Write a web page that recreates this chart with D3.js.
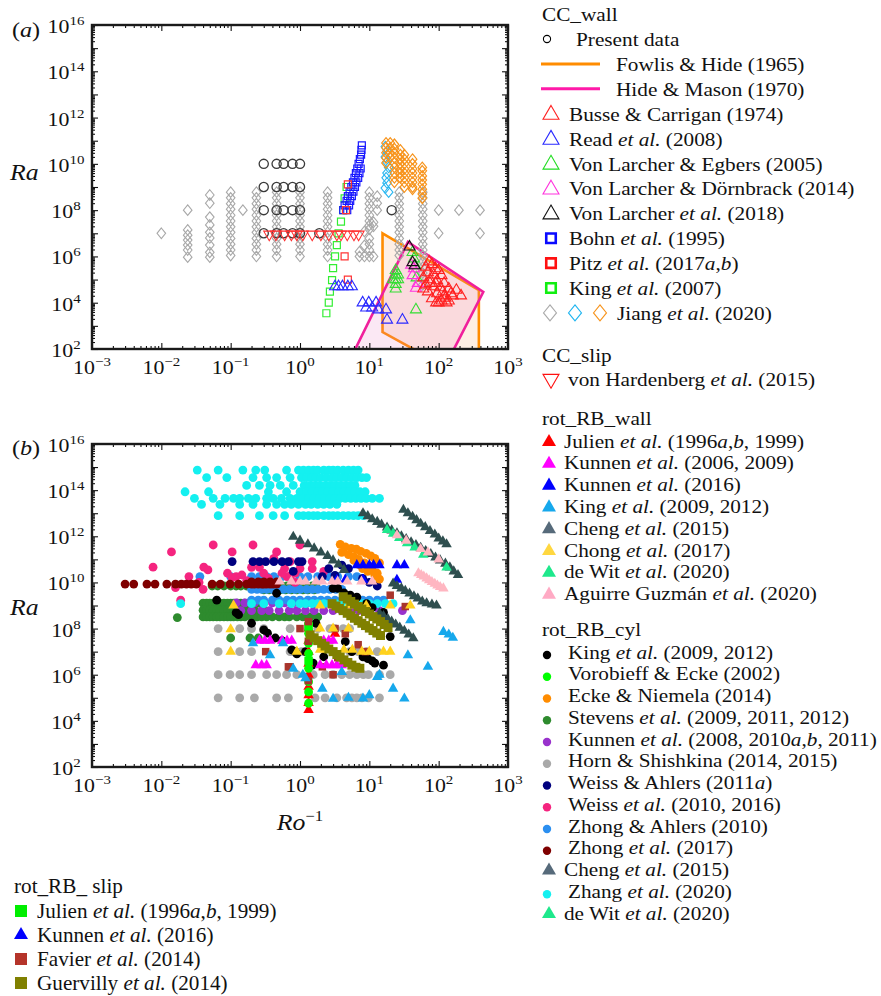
<!DOCTYPE html>
<html lang="en">
<head>
<meta charset="UTF-8">
<title>Ra versus inverse Rossby number</title>
<script src="https://d3js.org/d3.v7.min.js"></script>
<style>
  body { margin: 0; background: #fff; }
  svg { display: block; font-family: "Liberation Serif", "Times New Roman", serif; }
</style>
</head>
<body>
<svg width="881" height="996"></svg>
<script>
// helpers to pair typed values: row = same Ra, col = same Ro^-1
const row = (ra, ros) => ros.map(r => [r, ra]);
const col = (ro, ras) => ras.map(r => [ro, r]);

// ---------------- panel (a) data  [Ro^-1, Ra] ----------------
const presentData = [].concat(
  row(1e10, [0.3, 0.46, 0.58, 0.78, 1.0]),
  row(1e9, [0.3, 0.46, 0.58, 0.78, 1.0]),
  row(1e8, [0.3, 0.46, 0.58, 0.78, 1.0, 21]),
  row(1e7, [0.3, 0.46, 0.58, 0.78, 1.0, 1.9])
);
const fowlisHide = [[15.5, 1e7], [380, 3.5e4], [380, 40], [75, 40], [15.5, 540]];
const hideMason = [[5.4, 40], [36, 4.2e6], [440, 2.9e4], [142, 40]];
const busseCarrigan = [[73,5.9e5],[80,4.5e5],[65,3.5e5],[90,3e5],[100,2.5e5],[70,2e5],[85,1.6e5],[110,1.5e5],
  [60,1.2e5],[75,1e5],[95,9e4],[120,7e4],[65,6e4],[85,5e4],[105,4.5e4],[140,4e4],[180,3.5e4],[70,3e4],
  [95,2.5e4],[120,2e4],[160,2e4],[210,2e4],[80,1.5e4],[110,1.2e4],[140,1.2e4],[100,1e4],[130,1e4],
  [90,7e4],[115,3e4],[150,2.5e4],[60,4e4],[75,7e4],[92,1e4],[125,1.6e4]];
const read2008 = [[3.2,5e4],[3.6,5e4],[4.1,5e4],[4.9,5e4],[5.6,5e4],[8,1e4],[9.8,1e4],[12.5,1e4],
  [9,6e3],[11,6e3],[13.5,5e3],[17.4,5e3],[18,1.8e3],[30,1.8e3]];
const vonLarcherEgbers = [[24,2.5e5],[24,1.6e5],[24,1e5],[24,6.3e4],[24,4e4],[26,1.6e5],[26,1e5],[22,1e5],
  [42,1.5e6],[44,8e5],[46,4e5],[48,1.2e5],[47,5e3]];
const vonLarcherDornbrack = [[40,4.3e5],[44,3e5],[42,1.5e5],[47,4.3e4],[50,7e4]];
const vonLarcher2018 = [[38,2.6e6],[42,5.5e5],[45,4e5]];
const bohn1995 = [[4.2,1e8],[4.4,1.6e8],[4.7,2.5e8],[4.9,4e8],[5.2,6.3e8],[5.5,1e9],[5.8,1.6e9],[6.1,2.5e9],
  [6.4,4e9],[6.7,6.3e9],[7.0,1e10],[7.3,1.6e10],[7.6,2.5e10],[7.7,4e10],[7.8,6.3e10],
  [4.8,1e8],[5.1,1.6e8],[5.3,2.5e8],[5.6,4e8],[5.9,6.3e8],[6.2,1e9],[6.5,1.6e9],[6.9,2.5e9],[7.2,4e9],[7.5,6.3e9]];
const pitz2017 = [[4.4,1e6],[4.9,1e5],[4.9,1.3e9],[4.6,1e8]];
const king2007 = [[2.4,3.5e3],[2.6,1e4],[2.7,3e4],[2.9,9.5e4],[3.0,3.1e5],[3.2,1e6],[3.4,3.1e6],
  [3.6,1e7],[3.9,3.2e7],[4.2,1e8],[4.4,3.2e8],[4.7,1e9]];
const jiangGrey = [].concat(
  col(0.01, [1e7]),
  col(0.024, [1e8, 1.4e7, 8.3e6, 5.1e6, 3.1e6, 1.9e6, 9.3e5]),
  col(0.05, [4.5e8, 2e8, 5e7, 2.3e7, 1.1e7, 6.3e6, 3.1e6, 1.5e6, 9.3e5]),
  col(0.1, [6e8, 3.4e8, 1.9e8, 1.1e8, 6e7, 3.4e7, 1.9e7, 1.1e7, 6e6, 3.4e6, 1.9e6, 1.1e6]),
  col(0.15, [1e8]),
  col(0.235, [6e8, 3.4e8, 1.9e8, 1.1e8, 6e7, 3.4e7, 1.9e7, 1.1e7, 6e6, 3.4e6, 1.9e6, 1e6]),
  col(0.46, [6e8, 3.4e8, 1.9e8, 1.1e8, 6e7, 3.4e7, 1.9e7, 1.1e7, 6e6, 3.4e6, 1.9e6, 1e6]),
  col(1.0, [6e8, 3.4e8, 1.9e8, 1.1e8, 6e7, 3.4e7, 1.9e7, 1.1e7, 6e6, 3.4e6, 1.9e6, 1e6]),
  col(2.5, [6e8, 3.4e8, 1.9e8, 1.1e8, 6e7, 3.4e7, 1.9e7, 1.1e7, 6e6, 3.4e6, 1.9e6, 1e6]),
  col(7.2, [1e6, 1.6e6]),
  col(8.5, [1e6, 3e6, 1.2e7]),
  col(10, [6e8, 3.4e8, 1.9e8, 1.1e8, 6e7, 3.4e7, 2.2e7, 1.5e7, 6e6, 3.4e6, 1.9e6, 1e6]),
  col(11.5, [2e7, 3e7, 1e6]),
  col(13, [4e8, 2e8, 1e8]),
  col(27, [6e8, 3.4e8, 1.9e8, 1.1e8, 6e7, 3.4e7, 1.9e7, 1.1e7, 6e6, 3.4e6, 1.9e6, 1.1e6]),
  col(59, [6e8, 3.4e8, 1.9e8, 1.1e8, 6e7, 3.4e7, 1.9e7, 1.1e7, 6e6, 3.4e6, 1.9e6, 1.1e6, 6e5, 3.4e5, 1.9e5, 1.1e5, 6e4]),
  col(100, [1e8, 1e7]),
  col(196, [1e8]),
  col(395, [1e8, 1e7])
);
const jiangCyan = [[17,5.5e10],[18,3.5e10],[17,2e10],[18,1.2e10],[19,7e9],[18,4e9],[17.5,2.5e9],[18,1.5e9],[17,9e8],[19,6e8]];
const jiangOrange = [].concat(
  col(17.4, [8e10, 5e10, 3e10, 1.8e10, 1.1e10]),
  col(20, [8e10, 5e10, 3e10, 2e10]),
  col(23, [7e10, 4.5e10, 3e10, 1.8e10, 1.1e10, 7e9, 4e9, 2.5e9, 1.6e9]),
  col(28, [4e10, 2.5e10, 1.6e10, 1e10, 6e9, 4e9, 2.5e9]),
  col(32, [2.5e10, 1.6e10, 1e10, 6e9, 4e9, 2.5e9, 1.6e9, 1e9]),
  col(42, [1.6e10, 1e10, 6e9, 4e9, 2.5e9, 1.6e9, 1e9, 8e8]),
  col(58, [7e9, 5e9, 3e9, 2e9, 1.3e9, 8e8, 5e8, 3.3e8])
);
const vonHardenberg = row(9e6, [0.36, 0.45, 0.6, 0.75, 0.9, 1.1, 1.5, 2.0, 2.6, 3.4, 3.9, 4.8, 6.0, 7.0]);

// ---------------- panel (b) data  [Ro^-1, Ra] ----------------
const hornShishkina = [].concat(
  row(1.2e9, [0.066, 0.2, 0.5]),
  row(1e8, [0.066, 0.135, 0.2, 0.3, 0.72, 1.3, 1.8, 2.7, 3.2, 4.2, 5.2]),
  row(1e7, [0.066, 0.135, 0.2, 0.72, 1.05, 3.0, 5.2, 6.9, 9.1, 13]),
  row(1e6, [0.066, 0.098, 0.135, 0.2, 0.33, 0.46, 0.64, 0.9, 1.55, 2.3, 3.0, 4.0, 5.2, 6.6, 8.2, 9.7, 14, 20]),
  row(1e5, [0.066, 0.135, 0.22, 0.46, 0.68, 1.65, 2.3, 3.4, 4.7, 5.6, 6.6, 7.8, 9.7, 14])
);
const stevens = [].concat(
  row(7e9, [0.054, 0.065, 0.08, 0.1, 0.12, 0.14, 0.17, 0.2, 0.24, 0.28, 0.33, 0.4, 0.47, 0.55, 0.65, 0.75, 0.9, 1.05, 1.25, 1.5, 1.7]),
  row(4.8e9, [0.3, 0.36, 0.44, 0.52, 0.62, 0.75, 0.9, 1.1, 1.3, 1.6]),
  row(1.26e9, [0.04, 0.045, 0.05, 0.056, 0.063, 0.07, 0.08, 0.09, 0.1, 0.11, 0.125, 0.14, 0.16, 0.18, 0.2, 0.25]),
  row(6.3e8, [0.04, 0.045, 0.05, 0.056, 0.063, 0.07, 0.08, 0.09, 0.1, 0.11, 0.125, 0.14, 0.16, 0.18, 0.2, 0.22, 0.3]),
  row(3.2e8, [0.04, 0.045, 0.05, 0.056, 0.063, 0.07, 0.08, 0.09, 0.1, 0.11, 0.125, 0.14, 0.16, 0.2, 0.24, 0.28, 0.33, 0.4, 0.5, 0.6, 0.7, 0.9, 1.1, 1.4, 1.8]),
  [[0.017, 3e8], [0.1, 3.9e7], [0.19, 3.9e7], [0.25, 3.9e7]]
);
const kunnen2008 = [].concat(
  row(1.3e9, [0.12, 0.16, 0.22, 0.3, 0.4, 0.5, 0.6, 0.8, 1.0, 1.3, 1.6, 2.0, 2.5, 3.2, 4, 5, 6.3, 8, 10]),
  row(6e8, [0.14, 0.2, 0.28, 0.36, 0.5, 0.7, 0.9, 1.2, 1.6, 2.2, 3.0, 4, 5.5, 7, 10, 14, 30])
);
const zhongAhlers = [].concat(
  row(1.8e10, [0.036, 0.1, 0.2, 0.26, 0.33, 0.42, 0.55, 0.72, 1.0, 1.3, 1.8, 2.6, 3.5, 5, 6.6]),
  row(5e9, [0.2, 0.24, 0.28, 0.33, 0.4, 0.48, 0.58, 0.7, 0.85, 1.0, 1.25, 1.5, 1.8, 2.2, 2.7, 3.3, 4]),
  row(1.7e9, [0.2, 0.25, 0.3, 0.4, 0.5, 0.65, 0.8, 1, 1.3, 1.6, 2, 2.5, 3.2, 4, 5, 6.3, 8, 10, 13, 16])
);
const weiss = [[0.014,2.1e11],[0.056,4.2e11],[0.105,2.1e11],[0.21,4.2e11],[0.46,2.1e11],[0.42,1.1e11],
  [0.0076,4.6e10],[0.041,4.6e10],[0.047,3.5e10],[0.025,1.8e10],[0.019,1.7e9],[0.145,2.1e10],[0.2,4.5e10],
  [0.26,4.5e10],[0.105,1.6e10],[0.6,4e10],[0.65,1.8e10],[1.0,4.2e11],[0.72,8e10],[1.5,8e10],[1.5,4e10],
  [1.0,4e10],[0.72,1.9e10],[0.3,2.5e10],[0.09,2.5e10],[0.035,1e10],[0.016,6e9],[0.04,5e9],[0.12,1.8e10],
  [0.17,1.2e10],[0.35,1.5e10],[0.55,2.5e10],[0.85,2.5e10],[2.2,3e10],[0.85,1e10]];
const weissAhlers = [[0.105,8e10],[0.21,8e10],[0.26,8e10],[0.32,8e10],[0.42,8e10],[0.55,8e10],[0.68,8e10],
  [0.95,8e10],[1.07,8e10],[2.6,4e10],[2.1,1.8e10],[4,5.6e10],[5,4e10],[8,1.5e10],[10,1e10],[13,7e9],[0.8,3e10],[3.2,2e10]];
const zhong2017 = [].concat(
  row(8.5e9, [0.003, 0.004, 0.0062, 0.0081, 0.012, 0.016, 0.0195, 0.023, 0.027, 0.032, 0.054, 0.071, 0.098, 0.13,
    0.17, 0.2, 0.22, 0.25, 0.28, 0.3, 0.33, 0.37, 0.41, 0.46]),
  row(1.05e10, [0.2, 0.25, 0.3, 0.37, 0.46])
);
const zhang2020 = [].concat(
  row(7.4e14, [0.033, 0.066, 0.15, 0.23, 0.31, 0.64, 0.95, 1.12, 1.33, 1.56, 1.8, 2.2, 2.6, 3.0, 3.5, 4.2, 5.0, 5.9, 6.9]),
  row(3.5e14, [0.045, 0.088, 0.21, 0.33, 0.46, 0.72, 1.05, 1.25, 1.47, 1.7, 2.0, 2.4, 2.9, 3.4, 4.0, 4.7, 5.6, 6.6, 7.8, 9.1]),
  row(1.6e14, [0.17, 0.26, 0.37, 0.52, 0.8, 1.15, 1.4, 1.65, 1.9, 2.3, 2.7, 3.2, 3.8, 4.5, 5.3, 6.2]),
  row(8.5e13, [0.022, 0.048, 0.35, 0.64, 1.0, 1.25, 1.5, 1.8, 2.1, 2.5, 3.0, 3.6, 4.3, 5.1, 6.1, 7.3, 8.7]),
  row(4.4e13, [0.03, 0.056, 0.083, 0.11, 0.135, 0.18, 0.23, 0.33, 0.41, 0.54, 0.72, 0.9, 1.12, 1.35, 1.6, 1.9,
    2.25, 2.7, 3.2, 3.8, 4.5, 5.4, 6.4, 7.6, 9, 11, 14]),
  row(2.4e13, [0.038, 0.07, 0.135, 0.21, 0.33, 0.46, 0.6, 0.75, 0.95, 1.2, 1.45, 1.8, 2.2, 2.7, 3.4]),
  row(7.8e12, [0.066, 0.135, 0.26, 0.41, 0.6, 0.95, 1.12, 1.33, 1.56, 1.8, 2.2, 2.6, 3.0, 3.5, 4.2, 5.0, 5.9, 6.9, 8.2]),
  row(1.2e9, [0.019, 0.2, 0.3, 0.5, 0.75, 1.0, 1.2, 1.5, 1.8, 2.2, 2.7, 3.3, 4, 5, 6, 8, 10, 13, 17, 22])
);
const eckeNiemela = [[3.8,4.5e11],[4.5,3.5e11],[5.5,3e11],[6.5,2.8e11],[7.5,2.2e11],[9,1.8e11],[10.5,1.4e11],
  [12,1.1e11],[14,7e10],[4,2e11],[5,1.6e11],[6,1.3e11],[7,1e11],[8.5,7e10],[10,5e10],[11,3.5e10],[13,2.5e10],
  [7,6e10],[8,4e10],[9.5,3e10],[12,2e10],[14,1.4e10],[6,9e10]];
const vorobieffEcke = col(1.33, [1.6e8, 6.2e7, 2.3e7, 8.3e6, 1.9e6, 5e5, 1.8e5, 5.8e4]);
const kingCyl = [[0.063,1.7e9],[0.12,4.9e8],[0.13,4e8],[0.2,1.7e8],[0.3,8.7e7],[0.34,6.3e7],[0.44,3.9e7],
  [0.46,3.4e9],[0.55,3e7],[0.76,1.2e7],[0.85,1e7],[0.9,8e6],[1.5,2.6e6],[3.5,5.5e9],[3.0,5.5e9],[4.3,3.5e9],
  [5.3,2.8e9],[6.6,2.3e9],[9.1,1.2e9],[11,8e8],[16,5e8],[20,4.5e7],[1.7,1.7e8],[4.5,2.7e7],[5.6,1e7],
  [8.1,5.9e6],[9.5,5e6],[11,4e6],[12,3.2e6],[16,2.6e6],[1.55,3.2e6],[1.2,1e7],[2.2,6e6]];
const favier = [[0.32,1e7],[0.68,2.2e6],[1.0,1e8],[3.2,1e8],[4.5,6e7],[6.9,2e7],[8.8,1e7],[20,2.8e9],[33,9e8],
  [1.32,2e8],[2.1,2.2e6],[3.0,1e6],[0.72,2.2e6],[1.32,5.5e5],[1.32,2.8e7],[3.5,5.5e6]];
const kunnen2006 = [].concat(
  row(3e7, [0.26, 0.31, 0.37, 0.55, 0.65, 0.76, 2.2, 2.6, 3.0]),
  row(2.6e6, [0.23, 0.28, 0.33, 1.95, 2.4, 2.9, 3.4, 4.0])
);
const chong = [[0.1,9.3e7],[0.1,1e7],[0.9,1e7],[1.95,1e8],[3.0,1e8],[5,1e8],[7.8,1e7],[10,1e7],[16,1e7],[20,1e7],
  [39,1e9],[1.95,1e9],[3.0,1e9],[0.11,1e9],[5,1e9],[9,1e9],[20,1e9],[4.3,1.2e7],[5.7,1.2e7],[1.95,1.2e7]];
const kingWall = [[70,2.2e6],[117,7.2e7],[140,5.5e7],[160,4e7],[39,2.3e8],[32,9.3e4],[22,2.5e5],[13,8e5],
  [8.1,9.3e4],[5,1e5],[3,9e4],[2.1,2.5e5],[1.1,1e6],[0.21,2.3e7],[0.37,7e6],[0.57,2.3e7],[1.2,7e5],[36,7e6],
  [14,1e6],[10,1.3e5],[4,1.3e6],[0.8,1.8e6]];
const julienWall = col(1.33, [3e4, 6e4, 1.3e5, 3e5, 1e6, 3e6, 1e7, 3e7, 1e8]).concat([[3.2, 6e7]]);
const kunnen2016 = [].concat(
  row(5.6e10, [6.6, 8.1, 10, 11.5, 14, 25, 32]),
  row(1.3e10, [3.4, 4.5, 8.1, 25])
);
const cheng2015 = [
  [0.8,9.5e11],[1.0,6.5e11],[1.3,4.5e11],[1.6,3e11],[2.0,2e11],[2.5,1.4e11],[3.0,9e10],[3.6,6e10],[4.3,3.5e10],
  [8.1,1e13],[9.5,7.5e12],[11,5.5e12],[13,4.2e12],[15,3.2e12],[18,2.4e12],[21,1.8e12],[25,1.35e12],[29,1e12],
  [34,7.5e11],[40,5.5e11],[47,4.2e11],[55,3.2e11],[65,2.3e11],[77,1.7e11],[90,1.2e11],[105,9e10],[125,6.5e10],
  [145,4.5e10],[165,3e10],[190,2.1e10],
  [31,1.4e13],[36,1e13],[42,7e12],[48,5e12],[55,3.5e12],[64,2.5e12],[75,1.7e12],[88,1.2e12],[100,8e11],[115,6e11],[130,4.5e11],
  [22,9e9],[25,7e9],[29,5.5e9],[33,4.3e9],[38,3.3e9],[44,2.5e9],[50,2e9],[58,1.5e9],[67,1.25e9],[80,1.1e9],[93,1e9],
  [14,4.6e8],[16,3.5e8],[18.5,2.6e8],[21,2e8],[24,1.5e8],[27.5,1.1e8],[32,8e7],[37,5.5e7],[43,3.8e7]];
const deWit = [[18,1.9e12],[22,1.3e12],[27,8.5e11],[35,5e11],[45,3.3e11],[60,1.6e11],[130,4.4e10]];
const aguirreGuzman = [[25,1.1e12],[34,6.5e11],[55,2.8e11],[70,2e11],[100,1e11],
  [51,2.5e10],[56,2.1e10],[61,1.8e10],[67,1.5e10],[73,1.25e10],[80,1.05e10],[88,8.8e9],[96,7.4e9],[105,6.3e9],[117,5.5e9],
  [0.51,1.1e10],[0.75,1.1e10],[1.0,1.1e10],[1.2,1.1e10],[1.7,1.1e10],[2.1,1.1e10],[2.9,1.1e10],[3.5,1.1e10],
  [4.8,1.1e10],[7.7,1.1e10],[11,1.1e10]];
const guervilly = [
  [2.9,1.2e9],[3.3,9.5e8],[3.7,7.5e8],[4.2,6e8],[4.8,4.6e8],[5.4,3.6e8],[6.1,2.8e8],[6.9,2.2e8],[7.8,1.7e8],
  [8.8,1.35e8],[10,1.05e8],[11.3,8.2e7],[12.8,6.4e7],[14.5,5e7],
  [4.2,2.4e9],[4.8,1.9e9],[5.4,1.5e9],[6.1,1.15e9],[6.9,9e8],[7.8,7e8],[8.8,5.5e8],[10,4.3e8],[11.3,3.3e8],
  [12.8,2.6e8],[14.5,2e8],[16.4,1.5e8],[18.6,1.1e8],
  [1.4,5.3e7],[1.6,4e7],[1.8,3e7],[2.05,2.3e7],[2.3,1.75e7],[2.6,1.3e7],[3.0,1e7],[3.4,7.5e6],[3.8,5.8e6],
  [4.3,4.4e6],[4.9,3.4e6],[5.6,2.6e6],[6.4,2.1e6],[7.3,1.9e6]];
const julienSlip = [[1.33, 1.2e8], [1.33, 4e6]];
const kunnenSlip = [[8.1, 1.3e10]];

// axis tick labels (powers of ten)
const xTickExps = [-3, -2, -1, 0, 1, 2, 3];
const yTickExps = [2, 4, 6, 8, 10, 12, 14, 16];

// ---------------- drawing ----------------
const svg = d3.select("svg");

function stretchedText(parent, x, y, size, sx, anchor) {
  return parent.append("text")
    .attr("transform", `translate(${x},${y}) scale(${sx},1)`)
    .attr("font-size", size)
    .attr("text-anchor", anchor || "start")
    .attr("fill", "#111");
}
function richText(t, str) {
  str.split(/(<i>.*?<\/i>)/).forEach(part => {
    if (!part) return;
    const it = part.startsWith("<i>");
    t.append("tspan").attr("font-style", it ? "italic" : null).text(it ? part.slice(3, -4) : part);
  });
}
function powLabel(parent, x, y, exp, anchor) {
  const t = stretchedText(parent, x, y, 19, 1.15, anchor);
  t.append("tspan").text("10");
  t.append("tspan").attr("dy", -8).attr("font-size", 13).text(exp < 0 ? "\u2212" + (-exp) : String(exp));
}

function makePanel(id, top, bottom) {
  const x = d3.scaleLog().domain([1e-3, 1e3]).range([92, 508]);
  const y = d3.scaleLog().domain([1e2, 1e16]).range([bottom, top]);
  const g = svg.append("g");
  g.append("clipPath").attr("id", "clip" + id).append("rect")
    .attr("x", 92).attr("y", top).attr("width", 416).attr("height", bottom - top);
  const plot = g.append("g").attr("clip-path", `url(#clip${id})`);
  return { x, y, g, plot, top, bottom };
}

function drawAxes(p) {
  const { x, y, g, top, bottom } = p;
  const xMajor = d3.range(-3, 4).map(e => Math.pow(10, e));
  const yMajor = d3.range(2, 17).map(e => Math.pow(10, e));
  const xMinor = [], yMinor = [];
  for (let e = -3; e < 3; e++) for (let m = 2; m < 10; m++) xMinor.push(m * Math.pow(10, e));
  for (let e = 2; e < 16; e++) for (let m = 2; m < 10; m++) yMinor.push(m * Math.pow(10, e));
  const put = (axis, tr) => g.append("g").attr("transform", tr).call(axis)
    .call(s => {
      s.select(".domain").remove();
      s.selectAll("text").remove();
      s.selectAll("line").attr("stroke", "#111").attr("stroke-width", 1.1);
    });
  put(d3.axisBottom(x).tickValues(xMajor).tickSize(-6), `translate(0,${bottom})`);
  put(d3.axisBottom(x).tickValues(xMinor).tickSize(-3), `translate(0,${bottom})`);
  put(d3.axisTop(x).tickValues(xMajor).tickSize(-6), `translate(0,${top})`);
  put(d3.axisTop(x).tickValues(xMinor).tickSize(-3), `translate(0,${top})`);
  put(d3.axisLeft(y).tickValues(yMajor).tickSize(-6), `translate(92,0)`);
  put(d3.axisLeft(y).tickValues(yMinor).tickSize(-3), `translate(92,0)`);
  put(d3.axisRight(y).tickValues(yMajor).tickSize(-6), `translate(508,0)`);
  put(d3.axisRight(y).tickValues(yMinor).tickSize(-3), `translate(508,0)`);
  g.append("rect").attr("x", 92).attr("y", top).attr("width", 416).attr("height", bottom - top)
    .attr("fill", "none").attr("stroke", "#1a1a1a").attr("stroke-width", 2.4);
  xTickExps.forEach(e => powLabel(g, x(Math.pow(10, e)), bottom + 25, e, "middle"));
  yTickExps.forEach(e => powLabel(g, 66, y(Math.pow(10, e)) + 8, e, "middle"));
}

// marker shapes
const triUp = s => ({ draw(c) { const h = s * 0.866; c.moveTo(0, -h * 2 / 3); c.lineTo(s / 2, h / 3); c.lineTo(-s / 2, h / 3); c.closePath(); } });
const triDown = s => ({ draw(c) { const h = s * 0.866; c.moveTo(0, h * 2 / 3); c.lineTo(s / 2, -h / 3); c.lineTo(-s / 2, -h / 3); c.closePath(); } });
const diamond = (w, h) => ({ draw(c) { c.moveTo(0, -h / 2); c.lineTo(w / 2, 0); c.lineTo(0, h / 2); c.lineTo(-w / 2, 0); c.closePath(); } });
const square = s => ({ draw(c) { c.rect(-s / 2, -s / 2, s, s); } });
const circle = r => ({ draw(c) { c.moveTo(r, 0); c.arc(0, 0, r, 0, 2 * Math.PI); } });

function scatter(p, data, shape, color, filled, sw) {
  const path = d3.symbol().type(shape)();
  p.plot.append("g").selectAll("path").data(data).join("path")
    .attr("transform", d => `translate(${p.x(d[0])},${p.y(d[1])})`)
    .attr("d", path)
    .attr("fill", filled ? color : "none")
    .attr("stroke", filled ? "none" : color)
    .attr("stroke-width", sw || 1.1);
}

// ---------- panel (a) ----------
const pa = makePanel("a", 25, 349);
const areaLine = d3.line().x(d => pa.x(d[0])).y(d => pa.y(d[1]));
pa.plot.append("path").attr("d", areaLine(fowlisHide) + "Z")
  .attr("fill", "#f9a66a").attr("fill-opacity", 0.18).attr("stroke", "#ff8c00").attr("stroke-width", 2.6);
pa.plot.append("path").attr("d", areaLine(hideMason) + "Z")
  .attr("fill", "#e878c0").attr("fill-opacity", 0.17).attr("stroke", "#f0209c").attr("stroke-width", 2.6);

scatter(pa, jiangGrey, diamond(8.6, 10.6), "#a8a8a8", false, 1.1);
scatter(pa, jiangCyan, diamond(8.6, 10.6), "#2ab7f0", false, 1.1);
scatter(pa, jiangOrange, diamond(8.6, 10.6), "#f7941d", false, 1.2);
scatter(pa, presentData, circle(4.6), "#3a3a3a", false, 1.3);
scatter(pa, king2007, square(7), "#33ee33", false, 1.2);
scatter(pa, bohn1995, square(7), "#1a1aff", false, 1.2);
scatter(pa, pitz2017, square(7), "#ff3333", false, 1.2);
scatter(pa, vonHardenberg, triDown(11), "#ff3030", false, 1.1);
scatter(pa, read2008, triUp(11), "#2a2aff", false, 1.1);
scatter(pa, vonLarcherEgbers, triUp(11), "#33dd33", false, 1.1);
scatter(pa, vonLarcherDornbrack, triUp(11), "#ff33dd", false, 1.1);
scatter(pa, busseCarrigan, triUp(11), "#ff2020", false, 1.1);
scatter(pa, vonLarcher2018, triUp(11), "#111", false, 1.1);
drawAxes(pa);

// ---------- panel (b) ----------
const pb = makePanel("b", 444, 767);
const dot = circle(4.4), tri = triUp(10.5), sq = square(8.5);
scatter(pb, hornShishkina, dot, "#a9a9a9", true);
scatter(pb, stevens, dot, "#2e8b2e", true);
scatter(pb, kunnen2008, dot, "#9932cc", true);
scatter(pb, zhongAhlers, dot, "#2b8ff0", true);
scatter(pb, weiss, dot, "#f5247f", true);
scatter(pb, weissAhlers, dot, "#00007f", true);
scatter(pb, zhong2017, dot, "#7f0000", true);
scatter(pb, zhang2020, dot, "#14f0f0", true);
scatter(pb, eckeNiemela, dot, "#ff8c00", true);
scatter(pb, kingCyl, dot, "#000", true);
scatter(pb, julienWall, tri, "#ff0000", true);
scatter(pb, julienSlip, sq, "#00ff00", true);
scatter(pb, vorobieffEcke, dot, "#00ff00", true);
scatter(pb, favier, square(7.5), "#a8352c", true);
scatter(pb, kunnen2006, tri, "#ff00ff", true);
scatter(pb, chong, tri, "#ffd21e", true);
scatter(pb, kingWall, tri, "#16a8ec", true);
scatter(pb, kunnen2016, tri, "#0000ff", true);
scatter(pb, kunnenSlip, tri, "#0000ff", true);
scatter(pb, cheng2015, tri, "#2f4f4f", true);
scatter(pb, deWit, tri, "#1ee88c", true);
scatter(pb, aguirreGuzman, tri, "#ffb6c1", true);
scatter(pb, guervilly, square(9), "#808000", true);
drawAxes(pb);

// panel letters and axis titles
const labA = stretchedText(svg, 12, 37, 21, 1.15); labA.append("tspan").text("(");
labA.append("tspan").attr("font-style", "italic").text("a"); labA.append("tspan").text(")");
const labB = stretchedText(svg, 12, 455, 21, 1.15); labB.append("tspan").text("(");
labB.append("tspan").attr("font-style", "italic").text("b"); labB.append("tspan").text(")");
stretchedText(svg, 10, 180, 23, 1.12).attr("font-style", "italic").text("Ra");
stretchedText(svg, 10, 615, 23, 1.12).attr("font-style", "italic").text("Ra");
const roT = stretchedText(svg, 300, 830, 23, 1.12, "middle");
roT.append("tspan").attr("font-style", "italic").text("Ro");
roT.append("tspan").attr("dy", -9).attr("font-size", 15).text("\u22121");

// ---------------- legends ----------------
const leg = svg.append("g");
function legMarker(kind, color, cx, cy) {
  const m = {
    hollowTri: [triUp(16), false], downTri: [triDown(16), false], bigSq: [square(9.5), false],
    dotSmall: [circle(3.6), false], fillTri: [triUp(14), true], fillDot: [circle(4.2), true], slipSq: [square(12), true]
  }[kind];
  leg.append("path").attr("transform", `translate(${cx},${cy})`).attr("d", d3.symbol().type(m[0])())
    .attr("fill", m[1] ? color : "none").attr("stroke", m[1] ? "none" : color)
    .attr("stroke-width", kind === "bigSq" ? 2.6 : 1.1);
}

// CC legend
const ccWall = [
  ["dotSmall", "#000", "Present data"],
  ["line", "#ff8c00", "Fowlis & Hide (1965)"],
  ["line", "#ff1aa8", "Hide & Mason (1970)"],
  ["hollowTri", "#ff2020", "Busse & Carrigan (1974)"],
  ["hollowTri", "#2a2aff", "Read <i>et al.</i> (2008)"],
  ["hollowTri", "#22dd22", "Von Larcher & Egbers (2005)"],
  ["hollowTri", "#ff33dd", "Von Larcher & Dörnbrack (2014)"],
  ["hollowTri", "#111", "Von Larcher <i>et al.</i> (2018)"],
  ["bigSq", "#0a0aff", "Bohn <i>et al.</i> (1995)"],
  ["bigSq", "#ff1010", "Pitz <i>et al.</i> (2017<i>a</i>,<i>b</i>)"],
  ["bigSq", "#11ee11", "King <i>et al.</i> (2007)"],
  ["jiang", null, "Jiang <i>et al.</i> (2020)"]
];
stretchedText(leg, 542, 21, 19, 1.12).text("CC_wall");
ccWall.forEach((d, i) => {
  const cy = 39 + i * 24.9;
  let tx = 569;
  if (d[0] === "line") {
    leg.append("line").attr("x1", 541).attr("x2", 600).attr("y1", cy).attr("y2", cy)
      .attr("stroke", d[1]).attr("stroke-width", 3);
    tx = 616;
  } else if (d[0] === "jiang") {
    ["#aaaaaa", "#1fb5f0", "#f7941d"].forEach((c, k) =>
      leg.append("path").attr("transform", `translate(${550 + k * 25},${cy})`)
        .attr("d", d3.symbol().type(diamond(13, 16))()).attr("fill", "none").attr("stroke", c).attr("stroke-width", 1.1));
    tx = 617;
  } else {
    legMarker(d[0], d[1], d[0] === "dotSmall" ? 547 : 551, cy + (d[0] === "hollowTri" ? 1 : 0));
    if (d[0] === "dotSmall") tx = 576;
  }
  richText(stretchedText(leg, tx, cy + 7, 19, 1.12), d[2]);
});
stretchedText(leg, 542, 362, 19, 1.12).text("CC_slip");
legMarker("downTri", "#ff1010", 551, 379);
richText(stretchedText(leg, 568, 386, 19, 1.12), "von Hardenberg <i>et al.</i> (2015)");

// rot_RB wall / cyl legend
const rbWall = [
  ["#ff0000", "Julien <i>et al.</i> (1996<i>a</i>,<i>b</i>, 1999)"],
  ["#ff00ff", "Kunnen <i>et al.</i> (2006, 2009)"],
  ["#0000ff", "Kunnen <i>et al.</i> (2016)"],
  ["#16a8ec", "King <i>et al.</i> (2009, 2012)"],
  ["#566a7a", "Cheng <i>et al.</i> (2015)"],
  ["#ffd740", "Chong <i>et al.</i> (2017)"],
  ["#1ee88c", "de Wit <i>et al.</i> (2020)"],
  ["#ffaac4", "Aguirre Guzmán <i>et al.</i> (2020)"]
];
const rbCyl = [
  ["fillDot", "#000", "King <i>et al.</i> (2009, 2012)"],
  ["fillDot", "#00ff00", "Vorobieff & Ecke (2002)"],
  ["fillDot", "#ff8c00", "Ecke & Niemela (2014)"],
  ["fillDot", "#2e8b2e", "Stevens <i>et al.</i> (2009, 2011, 2012)"],
  ["fillDot", "#9932cc", "Kunnen <i>et al.</i> (2008, 2010<i>a</i>,<i>b</i>, 2011)"],
  ["fillDot", "#a9a9a9", "Horn & Shishkina (2014, 2015)"],
  ["fillDot", "#00007f", "Weiss & Ahlers (2011<i>a</i>)"],
  ["fillDot", "#f5247f", "Weiss <i>et al.</i> (2010, 2016)"],
  ["fillDot", "#2b8ff0", "Zhong & Ahlers (2010)"],
  ["fillDot", "#7f0000", "Zhong <i>et al.</i> (2017)"],
  ["fillTri", "#566a7a", "Cheng <i>et al.</i> (2015)"],
  ["fillDot", "#14f0f0", "Zhang <i>et al.</i> (2020)"],
  ["fillTri", "#1ee88c", "de Wit <i>et al.</i> (2020)"]
];
stretchedText(leg, 542, 425, 18, 1.18).text("rot_RB_wall");
rbWall.forEach((d, i) => {
  const cy = 441 + i * 21.8;
  legMarker("fillTri", d[0], 549, cy + 1);
  richText(stretchedText(leg, 564, cy + 6.5, 18, 1.18), d[1]);
});
stretchedText(leg, 542, 636, 18, 1.18).text("rot_RB_cyl");
rbCyl.forEach((d, i) => {
  const cy = 652 + i * 21.75;
  if (d[0] === "fillTri") legMarker("fillTri", d[1], 549, cy + 1);
  else legMarker("fillDot", d[1], 547, cy + 3);
  richText(stretchedText(leg, d[0] === "fillTri" ? 564 : 568, cy + 6.5, 18, 1.18), d[2]);
});

// rot_RB slip legend
const rbSlip = [
  ["slipSq", "#00ee00", "Julien <i>et al.</i> (1996<i>a</i>,<i>b</i>, 1999)"],
  ["fillTri", "#0000ff", "Kunnen <i>et al.</i> (2016)"],
  ["slipSq", "#b5342a", "Favier <i>et al.</i> (2014)"],
  ["slipSq", "#808000", "Guervilly <i>et al.</i> (2014)"]
];
stretchedText(leg, 14, 893, 20, 1.06).text("rot_RB_ slip");
rbSlip.forEach((d, i) => {
  const cy = 911 + i * 24;
  legMarker(d[0], d[1], 21, cy);
  richText(stretchedText(leg, 37, cy + 6.5, 20, 1.06), d[2]);
});
</script>
</body>
</html>
